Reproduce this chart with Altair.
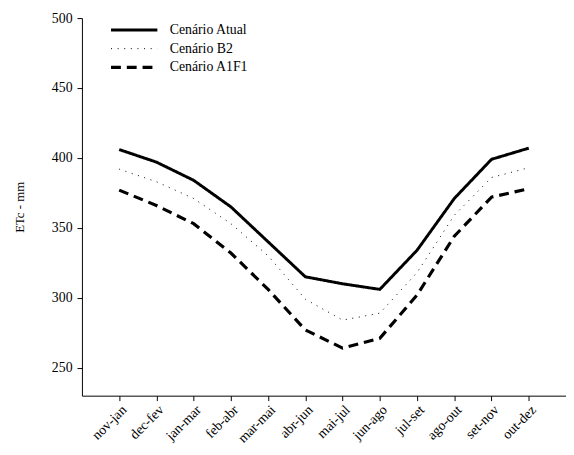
import altair as alt
import pandas as pd

periods = ["nov-jan", "dec-fev", "jan-mar", "feb-abr", "mar-mai", "abr-jun",
           "mai-jul", "jun-ago", "jul-set", "ago-out", "set-nov", "out-dez"]
atual = [406, 397, 384, 365, 340, 315, 310, 306, 334, 371, 399, 407]
b2 = [392, 383, 371, 353, 330, 299, 284, 289, 318, 359, 386, 393]
a1f1 = [377, 366, 353, 332, 306, 277, 264, 271, 302, 344, 372, 378]
series = ["Cenário Atual", "Cenário B2", "Cenário A1F1"]

rows = []
for name, vals in zip(series, [atual, b2, a1f1]):
    for p, v in zip(periods, vals):
        rows.append({"periodo": p, "etc": v, "cenario": name})
df = pd.DataFrame(rows)

FONT = "Liberation Serif, Times New Roman, serif"

leg = dict(orient="none", legendX=46, legendY=5,
           symbolType="M-4.7,0H4.7", symbolSize=100,
           symbolStrokeColor="black",
           labelFont=FONT, labelFontSize=14,
           labelColor="black", padding=0, rowPadding=5,
           labelOffset=29)

chart = alt.Chart(df).mark_line(color="black").encode(
    x=alt.X("periodo:N", sort=periods, title=None,
            scale=alt.Scale(type="point", padding=1),
            axis=alt.Axis(labelAngle=-45, labelAlign="right", labelBaseline="top",
                          tickSize=5, labelPadding=2, domainColor="black",
                          tickColor="black", labelColor="black")),
    y=alt.Y("etc:Q", title="ETc - mm",
            scale=alt.Scale(domain=[230, 500], nice=False, zero=False),
            axis=alt.Axis(values=[250, 300, 350, 400, 450, 500], tickSize=5,
                          labelPadding=5,
                          titlePadding=25, domainColor="black", tickColor="black",
                          labelColor="black", titleFontWeight="normal")),
    strokeDash=alt.StrokeDash("cenario:N", sort=series, title=None,
                              scale=alt.Scale(domain=series, range=[[1, 0], [1, 5.7], [10, 6]]),
                              legend=alt.Legend(**leg)),
    strokeWidth=alt.StrokeWidth("cenario:N", sort=series, title=None,
                                scale=alt.Scale(type="ordinal", domain=series, range=[3, 1, 3.2]),
                                legend=alt.Legend(**leg)),
).properties(
    width=491, height=383,
    autosize=alt.AutoSizeParams(type="none"),
    padding={"left": 75, "top": 7, "right": 0, "bottom": 60},
).configure_view(stroke=None).configure_axis(
    grid=False, labelFont=FONT, titleFont=FONT, labelFontSize=14, titleFontSize=13
).configure_legend(labelFont=FONT)

chart.save("out.html", embed_options={"renderer": "svg", "actions": False})
